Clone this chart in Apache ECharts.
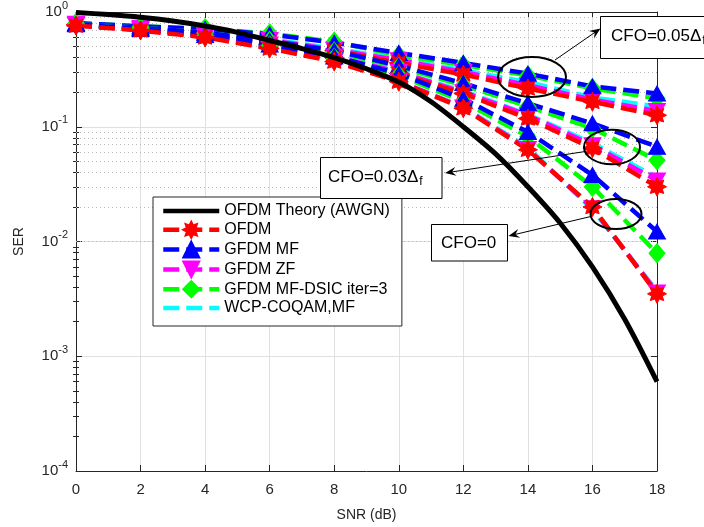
<!DOCTYPE html>
<html><head><meta charset="utf-8">
<script src="https://cdn.jsdelivr.net/npm/echarts@6/dist/echarts.min.js"></script>
<style>html,body{margin:0;padding:0;background:#fff}#c{width:704px;height:527px}</style>
</head><body><div id="c"></div>
<script>
// ---------- data ----------
const snr = [0,2,4,6,8,10,12,14,16,18];
const theorySnr = [0,1,2,3,4,5,6,7,8,9,10,11,12,13,14,15,16,17,18];
const theorySer = [0.99,0.95,0.90,0.835,0.755,0.665,0.565,0.48,0.40,0.32,0.245,0.165,0.10,0.058,0.030,0.0145,0.006,0.0021,0.0006];
// CFO = 0
const ofdm_0   = [0.76,0.69,0.60,0.48,0.37,0.247,0.145,0.063,0.020,0.0035];
const gfdmMF_0 = [0.78,0.71,0.63,0.52,0.41,0.29,0.175,0.090,0.038,0.0122];
const gfdmZF_0 = [0.77,0.70,0.61,0.49,0.375,0.25,0.147,0.064,0.0195,0.0036];
const dsic_0   = [0.78,0.71,0.62,0.51,0.40,0.28,0.165,0.082,0.030,0.0079];
const wcp_0    = [0.77,0.70,0.61,0.49,0.375,0.25,0.148,0.066,0.019,0.0037];
// CFO = 0.03
const ofdm_3   = [0.77,0.70,0.62,0.51,0.40,0.29,0.195,0.118,0.065,0.030];
const gfdmMF_3 = [0.79,0.73,0.66,0.56,0.46,0.34,0.24,0.16,0.107,0.067];
const gfdmZF_3 = [0.78,0.71,0.63,0.52,0.41,0.30,0.20,0.126,0.069,0.034];
const dsic_3   = [0.79,0.73,0.66,0.56,0.45,0.33,0.23,0.15,0.097,0.051];
const wcp_3    = [0.78,0.71,0.63,0.52,0.41,0.30,0.205,0.128,0.072,0.036];
// CFO = 0.05
const ofdm_5   = [0.78,0.72,0.65,0.55,0.46,0.36,0.285,0.216,0.165,0.126];
const gfdmMF_5 = [0.80,0.75,0.71,0.64,0.54,0.44,0.36,0.29,0.225,0.195];
const gfdmZF_5 = [0.79,0.73,0.66,0.57,0.47,0.38,0.30,0.23,0.172,0.137];
const dsic_5   = [0.80,0.75,0.72,0.65,0.55,0.42,0.345,0.28,0.216,0.177];
const wcp_5    = [0.79,0.73,0.67,0.58,0.48,0.39,0.31,0.245,0.18,0.15];

const names = ['OFDM Theory (AWGN)','OFDM','GFDM MF','GFDM ZF','GFDM MF-DSIC iter=3','WCP-COQAM,MF'];
const minorVals = [];
for (let d = -4; d < 0; d++) for (let m = 2; m <= 9; m++) minorVals.push(m * Math.pow(10, d));

// ---------- styles ----------
const FONT = 'Liberation Sans, Arial, Helvetica, sans-serif';
const AX = '#262626';
const STAR = 'path://M10 0 L12.3 4.46 L17.07 2.93 L15.54 7.7 L20 10 L15.54 12.3 L17.07 17.07 L12.3 15.54 L10 20 L7.7 15.54 L2.93 17.07 L4.46 12.3 L0 10 L4.46 7.7 L2.93 2.93 L7.7 4.46 Z';
const DASH = [16, 7];
const HIDDEN = { color: 'rgba(0,0,0,0)', borderWidth: 0, opacity: 0 };

const zip = (xs, ys) => xs.map((x, i) => [x, ys[i]]);

function dashed(name, data, color, kind) {
  const s = {
    name, type: 'line', data: zip(snr, data),
    lineStyle: { color, width: 4.5, type: DASH },
    symbol: 'circle', symbolSize: 16, showSymbol: true,
    itemStyle: { color, borderColor: color, borderWidth: 1 },
    emphasis: { disabled: true }, animation: false, z: 2
  };
  if (kind === 'none') { s.showSymbol = false; s.itemStyle = HIDDEN; }
  if (kind === 'star') { s.symbol = STAR; s.symbolSize = 19; }
  if (kind === 'up') { s.symbol = 'triangle'; s.symbolSize = [17, 15]; }
  if (kind === 'down') { s.symbol = 'triangle'; s.symbolRotate = 180; s.symbolSize = [17, 15]; }
  if (kind === 'diamond') { s.symbol = 'diamond'; s.symbolSize = [16, 19]; }
  return s;
}

const series = [{
  name: names[0], type: 'line', data: zip(theorySnr, theorySer),
  symbol: 'circle', showSymbol: false, smooth: 0.3,
  lineStyle: { color: '#000', width: 5 }, itemStyle: HIDDEN, emphasis: { disabled: true }, animation: false,
  markLine: {
    silent: true, symbol: 'none', z: 1, animation: false,
    label: { show: false },
    lineStyle: { color: '#b8b8b8', width: 1, type: [1, 3] },
    data: minorVals.map(v => ({ yAxis: v }))
  }
}];
const groups = [
  [ofdm_5, gfdmMF_5, gfdmZF_5, dsic_5, wcp_5],
  [ofdm_3, gfdmMF_3, gfdmZF_3, dsic_3, wcp_3],
  [ofdm_0, gfdmMF_0, gfdmZF_0, dsic_0, wcp_0]
];
groups.forEach(g => {
  series.push(dashed(names[5], g[4], '#00FFFF', 'none'));
  series.push(dashed(names[4], g[3], '#00FF00', 'diamond'));
  series.push(dashed(names[3], g[2], '#FF00FF', 'down'));
  series.push(dashed(names[2], g[1], '#0000FF', 'up'));
  series.push(dashed(names[1], g[0], '#FF0000', 'star'));
});

const yBase = { type: 'log', logBase: 10, min: 1e-4, max: 1 };
const xBase = { type: 'value', min: 0, max: 18, interval: 2 };
const lineAx = { show: true, onZero: false, lineStyle: { color: AX, width: 1 } };

const option = {
  backgroundColor: '#fff',
  animation: false,
  grid: { left: 76, right: 47, top: 12, bottom: 56, containLabel: false },
  legend: {
    data: names, orient: 'vertical', left: 153, top: 197,
    padding: [6, 12, 10, 8], itemGap: 1.8, itemWidth: 56, itemHeight: 20,
    backgroundColor: '#fff', borderColor: '#262626', borderWidth: 1,
    lineStyle: { width: 4.5 },
    textStyle: { fontFamily: FONT, fontSize: 16, color: '#000', lineHeight: 16 },
    selectedMode: false
  },
  xAxis: [
    Object.assign({}, xBase, {
      position: 'bottom', axisLine: lineAx,
      axisTick: { show: true, inside: true, length: 6, lineStyle: { color: AX } },
      axisLabel: { fontFamily: FONT, fontSize: 15, color: AX, margin: 11 },
      splitLine: { show: true, lineStyle: { color: '#e0e0e0', width: 1 } },
      name: 'SNR (dB)', nameLocation: 'middle', nameGap: 37,
      nameTextStyle: { fontFamily: FONT, fontSize: 14, color: AX }
    }),
    Object.assign({}, xBase, {
      position: 'top', axisLine: lineAx,
      axisTick: { show: true, inside: true, length: 6, lineStyle: { color: AX } },
      axisLabel: { show: false }, splitLine: { show: false }
    })
  ],
  yAxis: [
    Object.assign({}, yBase, {
      position: 'left', axisLine: lineAx,
      axisTick: { show: true, inside: true, length: 6, lineStyle: { color: AX } },
      axisLabel: {
        margin: 8, color: AX, fontFamily: FONT,
        formatter: v => '{b|10}{s|' + Math.round(Math.log10(v)) + '}',
        rich: {
          b: { fontFamily: FONT, fontSize: 15, color: AX },
          s: { fontFamily: FONT, fontSize: 11, color: AX, padding: [0, 0, 13, 0] }
        }
      },
      splitLine: { show: true, lineStyle: { color: '#e0e0e0', width: 1 } },
      name: 'SER', nameLocation: 'middle', nameGap: 50, nameRotate: 90,
      nameTextStyle: { fontFamily: FONT, fontSize: 14, color: AX }
    }),
    Object.assign({}, yBase, {
      position: 'right', axisLine: lineAx,
      axisTick: { show: true, inside: true, length: 6, lineStyle: { color: AX } },
      axisLabel: { show: false }, splitLine: { show: false }
    }),
    Object.assign({}, yBase, {
      position: 'left', axisLine: { show: false },
      axisTick: { show: true, inside: true, length: 3, customValues: minorVals, lineStyle: { color: AX } },
      axisLabel: { show: false }, splitLine: { show: false }
    }),
    Object.assign({}, yBase, {
      position: 'right', axisLine: { show: false },
      axisTick: { show: true, inside: true, length: 3, customValues: minorVals, lineStyle: { color: AX } },
      axisLabel: { show: false }, splitLine: { show: false }
    })
  ],
  series
};

const chart = echarts.init(document.getElementById('c'), null, { renderer: 'canvas' });
chart.setOption(option);

// ---------- annotations ----------
function arrow(x1, y1, x2, y2) {
  const ang = Math.atan2(y2 - y1, x2 - x1), L = 11, W = 4.5, N = 7;
  const ux = Math.cos(ang), uy = Math.sin(ang), px = -uy, py = ux;
  return [
    { type: 'line', shape: { x1, y1, x2: x2 - ux * 6, y2: y2 - uy * 6 }, style: { stroke: '#000', lineWidth: 1 }, z: 50 },
    { type: 'polygon', shape: { points: [
      [x2, y2],
      [x2 - ux * L + px * W, y2 - uy * L + py * W],
      [x2 - ux * N, y2 - uy * N],
      [x2 - ux * L - px * W, y2 - uy * L - py * W]
    ] }, style: { fill: '#000' }, z: 50 }
  ];
}
function ell(cx, cy, rx, ry) {
  return { type: 'ellipse', shape: { cx, cy, rx, ry }, style: { fill: 'none', stroke: '#000', lineWidth: 2 }, z: 50 };
}
function box(x, y, w, h, text, tx, ty) {
  return [
    { type: 'rect', shape: { x, y, width: w, height: h }, style: { fill: '#fff', stroke: '#000', lineWidth: 1 }, z: 60 },
    { type: 'text', x: tx, y: ty, style: {
      text, fill: '#000', verticalAlign: 'middle', align: 'left',
      font: '17px ' + FONT,
      rich: { m: { fontSize: 17, fontFamily: FONT }, f: { fontSize: 12, fontFamily: FONT, padding: [10, 0, 0, 1] } }
    }, z: 61 }
  ];
}
const g = [];
g.push(ell(532, 77, 34, 20), ell(612, 147, 28, 17.3), ell(616, 214, 25.5, 15));
g.push(...arrow(555, 60, 600.5, 28.5));
g.push(...arrow(584, 151.7, 445, 173));
g.push(...arrow(590, 216.7, 508.5, 236));
g.push(...box(600.5, 16.5, 130, 42, '{m|CFO=0.05Δ}{f|f}', 611, 36));
g.push(...box(320.5, 157.5, 121.5, 41, '{m|CFO=0.03Δ}{f|f}', 328, 177));
g.push(...box(431.5, 224.5, 76, 36.5, '{m|CFO=0}', 441, 243));
chart.setOption({ graphic: { elements: g } });
</script>
</body></html>
